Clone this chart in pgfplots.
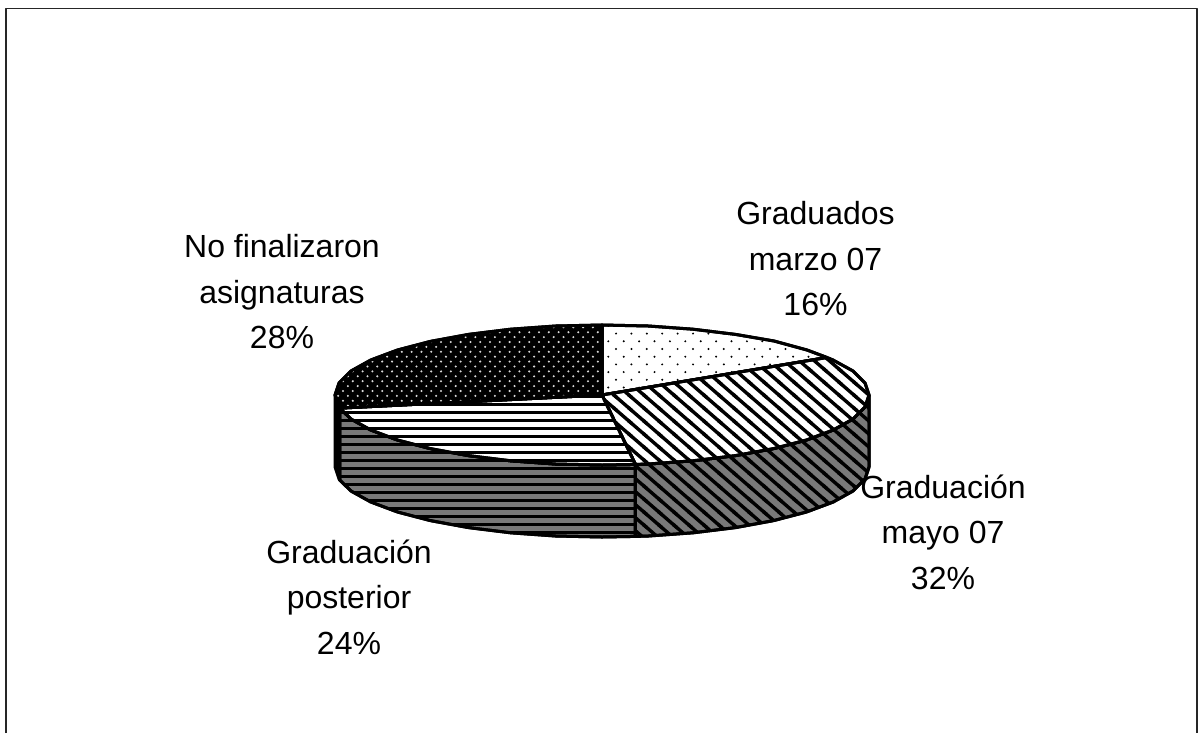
\documentclass[border=0pt]{standalone}
\usepackage{pgfplots}
\pgfplotsset{compat=1.18}
\usepackage{fontspec}
\setmainfont{Liberation Sans}
\usetikzlibrary{patterns}
\pgfdeclarepatternformonly{hstripe}{\pgfqpoint{-1pt}{-1pt}}{\pgfqpoint{9pt}{9pt}}{\pgfqpoint{8pt}{8pt}}{%
  \pgfpathrectangle{\pgfqpoint{-1pt}{0pt}}{\pgfqpoint{10pt}{3.2pt}}\pgfusepath{fill}}
\pgfdeclarepatternformonly{dstripe}{\pgfqpoint{-4pt}{-4pt}}{\pgfqpoint{19pt}{17pt}}{\pgfqpoint{15pt}{13pt}}{%
  \pgfsetlinewidth{3.4pt}\pgfpathmoveto{\pgfqpoint{-2pt}{14.73pt}}\pgfpathlineto{\pgfqpoint{17pt}{-1.73pt}}\pgfusepath{stroke}}
\pgfdeclarepatternformonly{sparsedots}{\pgfqpoint{-2pt}{-2pt}}{\pgfqpoint{17pt}{17pt}}{\pgfqpoint{15.4pt}{15.4pt}}{%
  \pgfpathcircle{\pgfqpoint{0pt}{0pt}}{1.1pt}\pgfpathcircle{\pgfqpoint{7.7pt}{7.7pt}}{1.1pt}\pgfusepath{fill}}
\pgfdeclarepatternformonly{densedots}{\pgfqpoint{-2pt}{-2pt}}{\pgfqpoint{12pt}{12pt}}{\pgfqpoint{9.8pt}{9.8pt}}{%
  \pgfpathcircle{\pgfqpoint{0pt}{0pt}}{1.15pt}\pgfpathcircle{\pgfqpoint{4.9pt}{4.9pt}}{1.15pt}\pgfusepath{fill}}
\begin{document}
\begin{tikzpicture}
\begin{axis}[
  scale only axis, width=1198pt, height=734pt,
  xmin=0, xmax=1198, ymin=0, ymax=734, y dir=reverse,
  axis lines=none, clip=false,
  every axis plot/.append style={no markers, line join=round},
]
\path (axis cs:0,0) rectangle (axis cs:1198,734);
% frame (open at the bottom)
\addplot[draw=black!85, line width=1.6pt] coordinates {(6,733) (6,8.5) (1197,8.5) (1197,733)};
% side walls
\addplot[draw=black, line width=3pt, fill=black] coordinates {
 (335,395) (339,407) (339.8,408.1) (339.8,480.1) (339,479) (335,467)} --cycle;
\addplot[draw=black, line width=3pt, fill=gray!95!black, postaction={pattern=hstripe}] coordinates {
 (339.8,408.1) (351,419) (370.8,430) (397.5,440) (430.4,448.6) (468.5,455.6) (510.7,460.8) (555.6,464) (602,465) (635.4,464.4)
 (635.4,536.4) (602,537) (555.6,536) (510.7,532.8) (468.5,527.6) (430.4,520.6) (397.5,512) (370.8,502) (351,491) (339.8,480.1)} --cycle;
\addplot[draw=black, line width=3pt, fill=gray!95!black, postaction={pattern=dstripe}] coordinates {
 (635.4,464.4) (648.4,464) (693,460.8) (735.5,455.6) (773.6,448.6) (806.5,440) (833.2,430) (853,419) (865,407) (869,395)
 (869,467) (865,479) (853,491) (833.2,502) (806.5,512) (773.6,520.6) (735.5,527.6) (693,532.8) (648.4,536) (635.4,536.4)} --cycle;
% top faces
\addplot[draw=black, line width=3pt, fill=white, postaction={pattern=sparsedots}] coordinates {
 (602,395) (602,325) (648.4,326) (693,329.2) (735.5,334.4) (774,341) (807,350) (827,357.5)} --cycle;
\addplot[draw=black, line width=3pt, fill=white, postaction={pattern=dstripe}] coordinates {
 (602,395) (827,357.5) (833,360) (853,371) (865,383) (869,395) (865,407) (853,419) (833.2,430) (806.5,440) (773.6,448.6) (735.5,455.6) (693,460.8) (648.4,464) (635.4,464.4)} --cycle;
\addplot[draw=black, line width=3pt, fill=white, postaction={pattern=hstripe}] coordinates {
 (602,395) (635.4,464.4) (602,465) (555.6,464) (510.7,460.8) (468.5,455.6) (430.4,448.6) (397.5,440) (370.8,430) (351,419) (339.8,408.1)} --cycle;
\addplot[draw=black, line width=3pt, fill=black, postaction={pattern=densedots, pattern color=white!85!black}] coordinates {
 (602,395) (339.8,408.1) (339,407) (335,395) (339,383) (351,371) (370.8,360) (397.5,350) (430.4,341.4) (468.5,334.4) (510.7,329.2) (555.6,326) (602,325)} --cycle;
% labels
\tikzset{lab/.style={anchor=center, align=center, font=\fontsize{32}{45.5}\selectfont, inner sep=0pt}}
\node[lab] at (axis cs:815.5,259) {Graduados\\marzo 07\\16\%};
\node[lab] at (axis cs:943,532) {Graduación\\mayo 07\\32\%};
\node[lab] at (axis cs:349,597) {Graduación\\posterior\\24\%};
\node[lab] at (axis cs:282,292) {No finalizaron\\asignaturas\\28\%};
\end{axis}
\end{tikzpicture}
\end{document}
